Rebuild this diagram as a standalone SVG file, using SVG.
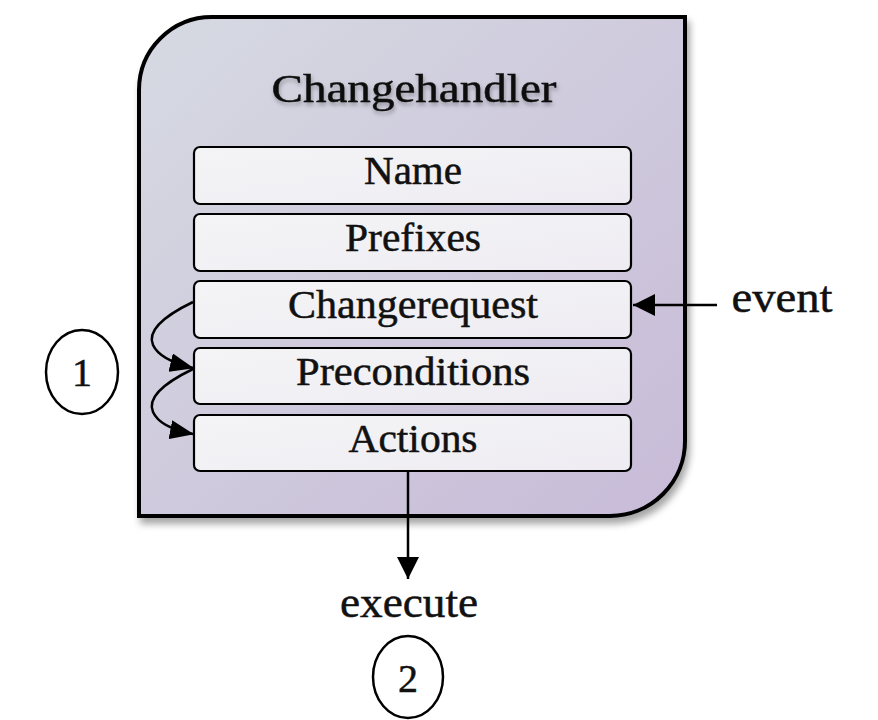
<svg xmlns="http://www.w3.org/2000/svg" width="878" height="720" viewBox="0 0 878 720">
<defs>
<linearGradient id="outerGrad" x1="0" y1="0" x2="1" y2="1">
<stop offset="0" stop-color="#d6dae2"/>
<stop offset="1" stop-color="#c8bbd8"/>
</linearGradient>
<linearGradient id="boxGrad" x1="0" y1="0" x2="1" y2="1">
<stop offset="0" stop-color="#f4f4f6"/>
<stop offset="1" stop-color="#eeecf2"/>
</linearGradient>
<filter id="shadow" x="-10%" y="-10%" width="125%" height="125%">
<feDropShadow dx="3" dy="6" stdDeviation="3.5" flood-color="#000" flood-opacity="0.35"/>
</filter>
<filter id="textShadow" x="-10%" y="-30%" width="120%" height="170%">
<feDropShadow dx="1" dy="3" stdDeviation="2" flood-color="#000" flood-opacity="0.3"/>
</filter>
<marker id="ahBig" viewBox="0 0 22 22" refX="22" refY="11" markerUnits="userSpaceOnUse" markerWidth="22" markerHeight="22" orient="auto">
<path d="M0,0 L22,11 L0,22 Z" fill="#000"/>
</marker>
<marker id="ahSmall" viewBox="0 0 24 19" refX="23" refY="9.5" markerUnits="userSpaceOnUse" markerWidth="24" markerHeight="19" orient="auto">
<path d="M0,0 L24,9.5 L0,19 Z" fill="#000"/>
</marker>
<style>
.box { fill: url(#boxGrad); stroke: #000; stroke-width: 2.2; }
.lbl { font-family: "Liberation Serif", "DejaVu Serif", serif; font-size: 40px; fill: #111; stroke: #111; stroke-width: 0.5; text-anchor: middle; }
.big { font-size: 44px; }
.conn { fill: none; stroke: #000; stroke-width: 2.5; }
.circ { fill: none; stroke: #000; stroke-width: 2.5; }
</style>
</defs>

<g id="changehandler">
<path d="M139,90 A73,73 0 0 1 212,17 L685,17 L685,441 A75,75 0 0 1 610,516 L139,516 Z" fill="url(#outerGrad)" stroke="#000" stroke-width="4" filter="url(#shadow)"/>
<text class="lbl" x="414" y="102" font-size="45" textLength="285" lengthAdjust="spacingAndGlyphs" filter="url(#textShadow)">Changehandler</text>
</g>

<g id="name">
<rect class="box" x="194" y="147" width="437" height="57" rx="6"/>
<text class="lbl" x="413" y="184" textLength="98" lengthAdjust="spacingAndGlyphs">Name</text>
</g>
<g id="prefixes">
<rect class="box" x="194" y="214" width="437" height="57" rx="6"/>
<text class="lbl" x="413" y="251" textLength="136" lengthAdjust="spacingAndGlyphs">Prefixes</text>
</g>
<g id="changerequest">
<rect class="box" x="194" y="281" width="437" height="57" rx="6"/>
<text class="lbl" x="413" y="318" textLength="250" lengthAdjust="spacingAndGlyphs">Changerequest</text>
</g>
<g id="preconditions">
<rect class="box" x="194" y="348" width="437" height="56" rx="6"/>
<text class="lbl" x="413" y="385" textLength="234" lengthAdjust="spacingAndGlyphs">Preconditions</text>
</g>
<g id="actions">
<rect class="box" x="194" y="415" width="437" height="56" rx="6"/>
<text class="lbl" x="413" y="452" textLength="129" lengthAdjust="spacingAndGlyphs">Actions</text>
</g>

<g id="event">
<text class="lbl big" x="782" y="312" textLength="101" lengthAdjust="spacingAndGlyphs">event</text>
</g>
<g id="execute">
<text class="lbl big" x="409" y="617" textLength="138" lengthAdjust="spacingAndGlyphs">execute</text>
</g>
<g id="step1">
<ellipse class="circ" cx="82" cy="372" rx="36" ry="42"/>
<text class="lbl" x="82" y="386">1</text>
</g>
<g id="step2">
<ellipse class="circ" cx="408" cy="677" rx="35" ry="41"/>
<text class="lbl" x="408" y="692">2</text>
</g>

<g id="connectors">
<line class="conn" x1="717" y1="305" x2="633" y2="305" marker-end="url(#ahBig)"/>
<line class="conn" x1="408" y1="471" x2="408" y2="579" marker-end="url(#ahBig)"/>
<path class="conn" d="M193,302 C162,317 147,331 153,345 C158,356 172,363 193,368" marker-end="url(#ahSmall)"/>
<path class="conn" d="M193,369 C162,384 147,398 153,412 C158,423 172,430 193,434" marker-end="url(#ahSmall)"/>
</g>
</svg>
